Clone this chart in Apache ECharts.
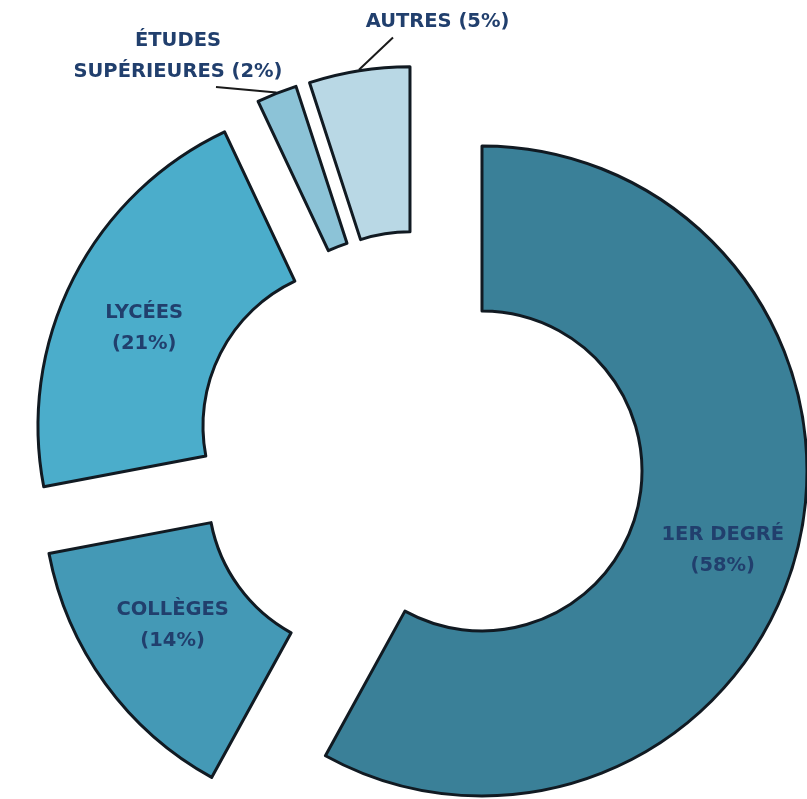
<!DOCTYPE html>
<html>
<head>
<meta charset="utf-8">
<script src="https://cdn.jsdelivr.net/npm/echarts@6/dist/echarts.min.js"></script>
<style>
html,body{margin:0;padding:0;background:#fff;}
#chart{width:807px;height:799px;}
</style>
</head>
<body>
<div id="chart"></div>
<script>
const categories = ['1ER DEGRÉ', 'COLLÈGES', 'LYCÉES', 'ÉTUDES SUPÉRIEURES', 'AUTRES'];
const values = [58, 14, 21, 2, 5];
const colors = ['#3a8098', '#4499b6', '#4badcb', '#8cc3d7', '#b9d8e5'];
const outsideIdx = [3, 4];

const chart = echarts.init(document.getElementById('chart'));
const textColor = '#213f6d';
const fontFamily = 'DejaVu Sans';
const baseLabel = {
  color: textColor,
  fontFamily: fontFamily,
  fontWeight: 'bold',
  fontSize: 19.5,
  lineHeight: 31,
  align: 'center'
};

// main exploded ring (all slices pulled out by the selection offset)
const ringData = categories.map((name, i) => ({
  name: name,
  value: values[i],
  selected: true,
  itemStyle: { color: colors[i] },
  label: { show: outsideIdx.indexOf(i) < 0, position: 'inside' },
  labelLine: { show: false }
}));

// transparent carrier ring for the two outside labels and their leader lines
const carrierData = categories.map((name, i) => {
  const item = {
    name: name,
    value: values[i],
    label: { show: outsideIdx.indexOf(i) >= 0, position: 'outside' },
    labelLine: { show: outsideIdx.indexOf(i) >= 0 }
  };
  if (i === 3) item.label.padding = [0, 76, 0, 0];
  if (i === 4) item.label.padding = [0, 0, 0, 89];
  return item;
});

chart.setOption({
  animation: false,
  series: [{
    type: 'pie',
    center: [420, 455],
    radius: [160, 325],
    startAngle: 90,
    clockwise: true,
    selectedMode: 'multiple',
    selectedOffset: 64,
    avoidLabelOverlap: false,
    silent: true,
    itemStyle: { borderColor: '#111a22', borderWidth: 3 },
    select: { itemStyle: { borderColor: '#111a22', borderWidth: 3 } },
    emphasis: { disabled: true, scale: false },
    label: Object.assign({}, baseLabel, {
      formatter: function (p) { return p.name + '\n(' + p.value + '%)'; }
    }),
    labelLayout: function (p) {
      if (p.dataIndex === 0) return { dx: 3, dy: 18 };
      if (p.dataIndex === 1) return { dx: 3, dy: -11 };
      if (p.dataIndex === 2) return { dx: 0, dy: 14 };
      return {};
    },
    data: ringData
  }, {
    type: 'pie',
    center: [420, 455],
    radius: [382, 390],
    startAngle: 90,
    clockwise: true,
    silent: true,
    avoidLabelOverlap: false,
    itemStyle: { color: 'rgba(0,0,0,0)', borderWidth: 0 },
    emphasis: { disabled: true, scale: false },
    label: Object.assign({}, baseLabel, {
      formatter: function (p) {
        if (p.dataIndex === 3) return 'ÉTUDES\nSUPÉRIEURES (' + p.value + '%)';
        return p.name + ' (' + p.value + '%)';
      }
    }),
    labelLine: { length: 10, length2: 0, lineStyle: { color: '#1a1a1a', width: 2 } },
    labelLayout: function (p) {
      if (p.dataIndex === 3) return { x: 216, y: 56, align: 'center', verticalAlign: 'middle' };
      if (p.dataIndex === 4) return { x: 393, y: 22, align: 'center', verticalAlign: 'middle' };
      return {};
    },
    data: carrierData
  }]
});
</script>
</body>
</html>
